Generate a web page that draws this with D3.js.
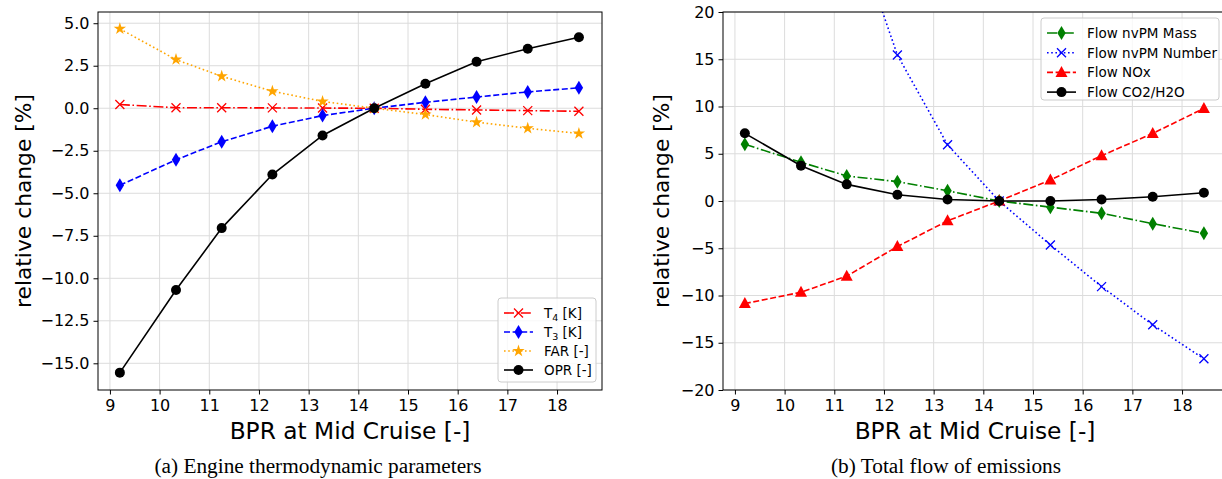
<!DOCTYPE html>
<html>
<head>
<meta charset="utf-8">
<script src="https://cdn.jsdelivr.net/npm/d3@7"></script>
<style>
    body { margin: 0; background: #fff; }
    svg { display: block; font-family: "DejaVu Sans", sans-serif; }
    .axis text { font-size: 16px; fill: #000; font-family: "DejaVu Sans", sans-serif; }
    .axis path, .axis line { stroke: #000; }
    .grid line { stroke: #dcdcdc; stroke-width: 1; }
    .axis--label { font-size: 23.3px; fill: #000; }
    .axis--label.y { font-size: 21.8px; }
    .caption { font-family: "Liberation Serif", "Times New Roman", serif; font-size: 21.3px; fill: #000; }
    .legend text { font-size: 13.5px; fill: #000; }
</style>
</head>
<body>
<div id="chart"></div>
<script>
// BPR sweep, same points in both panels
const bpr = [9.2, 10.33, 11.25, 12.27, 13.28, 14.32, 15.35, 16.38, 17.41, 18.44];

// (a) engine thermodynamic parameters, relative change [%]
const t4 = [0.22, 0.03, 0.03, 0.02, 0.01, 0, -0.06, -0.1, -0.14, -0.18];
const t3 = [-4.53, -3.03, -1.97, -1.06, -0.43, 0, 0.35, 0.66, 0.96, 1.2];
const far = [4.67, 2.86, 1.88, 1.0, 0.4, 0, -0.37, -0.82, -1.18, -1.48];
const opr = [-15.55, -10.69, -7.05, -3.9, -1.6, 0, 1.44, 2.73, 3.5, 4.18];

// (b) total flow of emissions, relative change [%]
const nvpmMass = [6.0, 4.1, 2.65, 2.05, 1.08, 0, -0.65, -1.3, -2.4, -3.42];
const nvpmNumber = [75, 50, 31, 15.45, 5.95, 0, -4.65, -9.06, -13.1, -16.7];
const nox = [-10.85, -9.66, -7.95, -4.82, -2.1, 0, 2.22, 4.8, 7.15, 9.8];
const co2 = [7.16, 3.74, 1.76, 0.66, 0.16, 0, 0, 0.16, 0.45, 0.88];

const leftTicksY = [-15, -12.5, -10, -7.5, -5, -2.5, 0, 2.5, 5];
const rightTicksY = [-20, -15, -10, -5, 0, 5, 10, 15, 20];
const ticksX = [9, 10, 11, 12, 13, 14, 15, 16, 17, 18];

const width = 1222;
const height = 479;

const dash = {
    solid: null,
    dashed: "6,2.6",
    dashdot: "10,2.6,1.6,2.6",
    dotted: "1.6,2.6"
};

const svg = d3.select("#chart")
    .append("svg")
    .attr("width", width)
    .attr("height", height);

// marker shapes drawn around (0,0)
function starPath(R) {
    let pts = [];
    for (let i = 0; i < 10; i++) {
        let r = i % 2 === 0 ? R : R * 0.381966;
        let a = -Math.PI / 2 + i * Math.PI / 5;
        pts.push([r * Math.cos(a), r * Math.sin(a)]);
    }
    return "M" + pts.map(p => p.join(",")).join("L") + "Z";
}

function drawMarker(g, type, color, x, y) {
    if (type === "o") {
        g.append("circle").attr("cx", x).attr("cy", y).attr("r", 5).attr("fill", color);
    } else if (type === "x") {
        let s = 4.5;
        g.append("path")
            .attr("d", `M${x-s},${y-s}L${x+s},${y+s}M${x-s},${y+s}L${x+s},${y-s}`)
            .attr("stroke", color).attr("stroke-width", 1.3).attr("fill", "none");
    } else if (type === "d") {
        g.append("path")
            .attr("d", `M${x},${y-7}L${x+4.2},${y}L${x},${y+7}L${x-4.2},${y}Z`)
            .attr("fill", color);
    } else if (type === "*") {
        g.append("path").attr("transform", `translate(${x},${y})`)
            .attr("d", starPath(6.5)).attr("fill", color);
    } else if (type === "^") {
        g.append("path")
            .attr("d", `M${x},${y-6.5}L${x+6},${y+4.5}L${x-6},${y+4.5}Z`)
            .attr("fill", color);
    }
}

function drawPanel(p) {
    const xScale = d3.scaleLinear().domain(p.xDomain).range([p.left, p.right]);
    const yScale = d3.scaleLinear().domain(p.yDomain).range([p.bottom, p.top]);

    const g = svg.append("g");

    const clipId = "clip-" + p.id;
    g.append("clipPath").attr("id", clipId)
        .append("rect")
        .attr("x", p.left).attr("y", p.top)
        .attr("width", p.right - p.left).attr("height", p.bottom - p.top);

    // grid
    const grid = g.append("g").attr("class", "grid");
    grid.selectAll(".gx").data(ticksX).enter().append("line")
        .attr("x1", d => xScale(d)).attr("x2", d => xScale(d))
        .attr("y1", p.top).attr("y2", p.bottom);
    grid.selectAll(".gy").data(p.ticksY).enter().append("line")
        .attr("x1", p.left).attr("x2", p.right)
        .attr("y1", d => yScale(d)).attr("y2", d => yScale(d));

    // series
    const plot = g.append("g").attr("clip-path", `url(#${clipId})`);
    const line = d3.line().x((d, i) => xScale(bpr[i])).y(d => yScale(d));

    p.series.forEach(function(s) {
        plot.append("path")
            .datum(s.values)
            .attr("d", line)
            .attr("fill", "none")
            .attr("stroke", s.color)
            .attr("stroke-width", 1.6)
            .attr("stroke-dasharray", dash[s.dash]);
        s.values.forEach(function(v, i) {
            drawMarker(plot, s.marker, s.color, xScale(bpr[i]), yScale(v));
        });
    });

    // frame
    g.append("rect")
        .attr("x", p.left).attr("y", p.top)
        .attr("width", p.right - p.left).attr("height", p.bottom - p.top)
        .attr("fill", "none").attr("stroke", "#000").attr("stroke-width", 1);

    g.append("g")
        .attr("class", "axis")
        .attr("transform", `translate(0,${p.bottom})`)
        .call(d3.axisBottom(xScale).tickValues(ticksX).tickSize(4.5).tickPadding(5).tickFormat(d3.format("d")))
        .call(a => a.select(".domain").remove());

    g.append("g")
        .attr("class", "axis")
        .attr("transform", `translate(${p.left},0)`)
        .call(d3.axisLeft(yScale).tickValues(p.ticksY).tickSize(4.5).tickPadding(4).tickFormat(d3.format(p.yFormat)))
        .call(a => a.select(".domain").remove());

    // axis labels
    g.append("text")
        .attr("class", "axis--label")
        .attr("x", p.left + 252)
        .attr("y", 439)
        .attr("text-anchor", "middle")
        .text("BPR at Mid Cruise [-]");

    g.append("text")
        .attr("class", "axis--label y")
        .attr("transform", `translate(${p.yLabelX},${(p.top + p.bottom) / 2}) rotate(-90)`)
        .attr("text-anchor", "middle")
        .text("relative change [%]");

    g.append("text")
        .attr("class", "caption")
        .attr("x", p.captionX)
        .attr("y", 473)
        .attr("text-anchor", "middle")
        .text(p.caption);

    // legend
    const lg = g.append("g").attr("class", "legend");
    lg.append("rect")
        .attr("x", p.legend.x).attr("y", p.legend.y)
        .attr("width", p.legend.w).attr("height", p.legend.h)
        .attr("rx", 3)
        .attr("fill", "#fff").attr("fill-opacity", 0.8)
        .attr("stroke", "#cccccc");

    p.series.forEach(function(s, i) {
        let yy = p.legend.y + 15 + i * p.legend.step;
        let x0 = p.legend.x + 6;
        lg.append("line")
            .attr("x1", x0).attr("x2", x0 + 29)
            .attr("y1", yy).attr("y2", yy)
            .attr("stroke", s.color)
            .attr("stroke-width", 1.6)
            .attr("stroke-dasharray", dash[s.dash]);
        drawMarker(lg, s.marker, s.color, x0 + 14.5, yy);
        let t = lg.append("text")
            .attr("x", x0 + 40)
            .attr("y", yy + 5);
        if (s.sub) {
            t.append("tspan").text(s.label);
            t.append("tspan").attr("font-size", "9.5px").attr("dy", 3).text(s.sub);
            t.append("tspan").attr("dy", -3).text(" " + s.unit);
        } else {
            t.text(s.label);
        }
    });
}

drawPanel({
    id: "a",
    left: 98, right: 602, top: 12, bottom: 390,
    xDomain: [8.76, 18.905],
    yDomain: [-16.57, 5.66],
    ticksY: leftTicksY,
    yFormat: ".1f",
    yLabelX: 31,
    captionX: 318,
    caption: "(a) Engine thermodynamic parameters",
    legend: { x: 498, y: 298, w: 98, h: 84, step: 19 },
    series: [
        { values: t4, color: "red", dash: "dashdot", marker: "x", label: "T", sub: "4", unit: "[K]" },
        { values: t3, color: "blue", dash: "dashed", marker: "d", label: "T", sub: "3", unit: "[K]" },
        { values: far, color: "orange", dash: "dotted", marker: "*", label: "FAR [-]" },
        { values: opr, color: "black", dash: "solid", marker: "o", label: "OPR [-]" }
    ]
});

drawPanel({
    id: "b",
    left: 723, right: 1227, top: 12, bottom: 390,
    xDomain: [8.76, 18.905],
    yDomain: [-20, 20],
    ticksY: rightTicksY,
    yFormat: "d",
    yLabelX: 669,
    captionX: 946,
    caption: "(b) Total flow of emissions",
    legend: { x: 1041, y: 18, w: 178, h: 82, step: 19.7 },
    series: [
        { values: nvpmMass, color: "green", dash: "dashdot", marker: "d", label: "Flow nvPM Mass" },
        { values: nvpmNumber, color: "blue", dash: "dotted", marker: "x", label: "Flow nvPM Number" },
        { values: nox, color: "red", dash: "dashed", marker: "^", label: "Flow NOx" },
        { values: co2, color: "black", dash: "solid", marker: "o", label: "Flow CO2/H2O" }
    ]
});
</script>
</body>
</html>
